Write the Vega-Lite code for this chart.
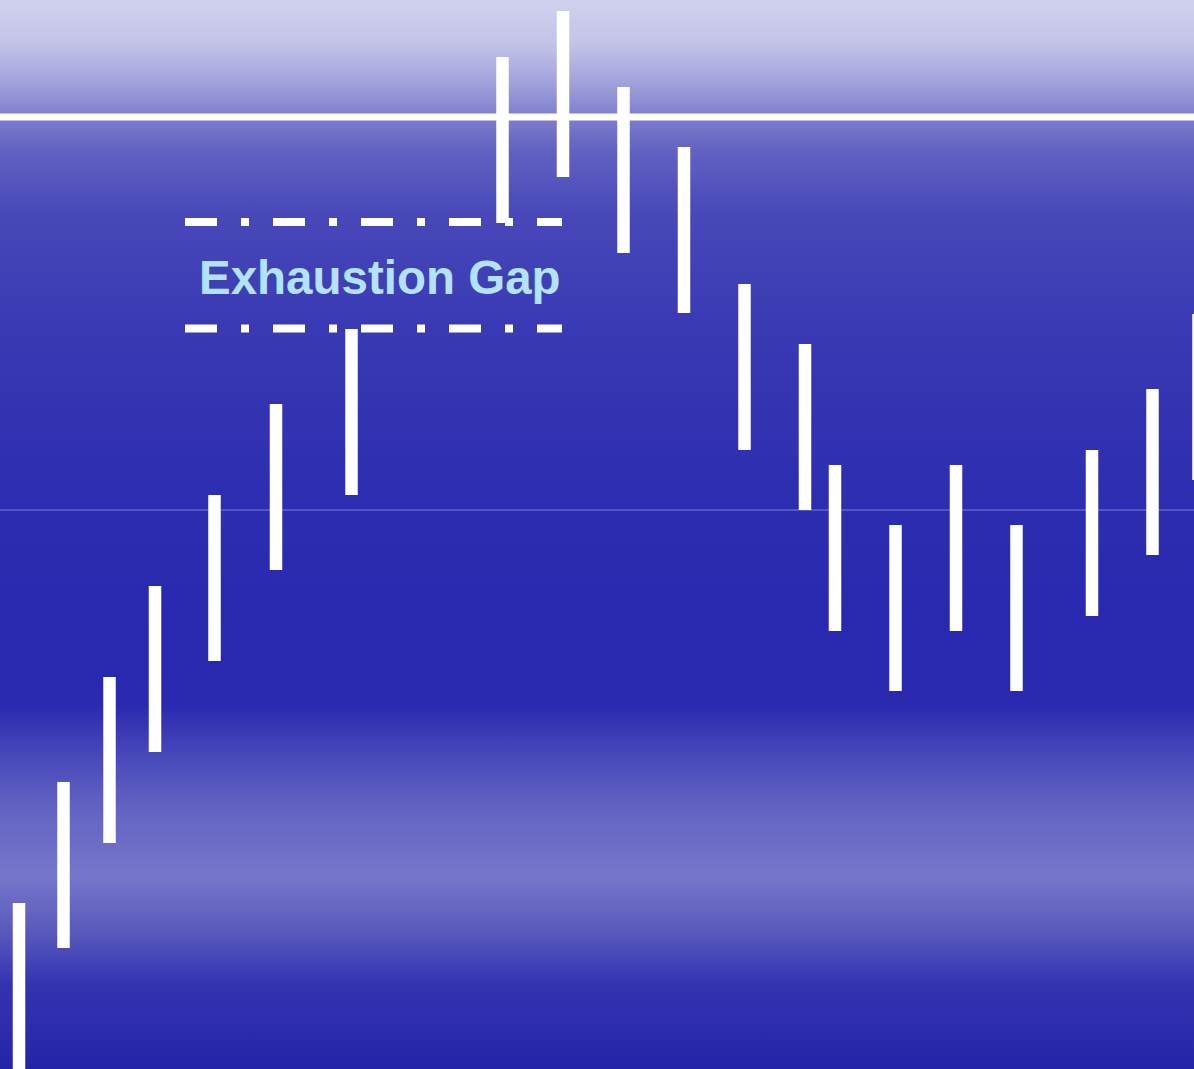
{
  "$schema": "https://vega.github.io/schema/vega-lite/v6.json",
  "width": 1194,
  "height": 1069,
  "autosize": {"type": "none"},
  "padding": 0,
  "background": "#2a2ab0",
  "view": {
    "stroke": null,
    "fill": {
      "gradient": "linear",
      "x1": 0, "y1": 0, "x2": 0, "y2": 1,
      "stops": [
        {"offset": 0, "color": "#d0d0ee"},
        {"offset": 0.04, "color": "#c4c4e9"},
        {"offset": 0.075, "color": "#a4a4dc"},
        {"offset": 0.105, "color": "#8282d0"},
        {"offset": 0.14, "color": "#6262c2"},
        {"offset": 0.2, "color": "#4848b9"},
        {"offset": 0.3, "color": "#3a3ab4"},
        {"offset": 0.45, "color": "#2e2eb1"},
        {"offset": 0.6, "color": "#2828b0"},
        {"offset": 0.66, "color": "#2a2ab0"},
        {"offset": 0.71, "color": "#4a4abb"},
        {"offset": 0.76, "color": "#6464c4"},
        {"offset": 0.82, "color": "#7676ca"},
        {"offset": 0.87, "color": "#5a5abe"},
        {"offset": 0.92, "color": "#3434b2"},
        {"offset": 1, "color": "#2424a8"}
      ]
    }
  },
  "config": {"axis": {"disable": true}},
  "layer": [
    {
      "data": {"values": [{"level": 55.9}]},
      "mark": {"type": "rule", "stroke": "#7c7cd4", "strokeWidth": 1},
      "encoding": {
        "y": {"field": "level", "type": "quantitative", "scale": {"domain": [0, 106.9], "nice": false, "zero": false}, "axis": null}
      }
    },
    {
      "data": {"values": [{"level": 95.2}]},
      "mark": {"type": "rule", "stroke": "white", "strokeWidth": 7},
      "encoding": {
        "y": {"field": "level", "type": "quantitative", "scale": {"domain": [0, 106.9], "nice": false, "zero": false}, "axis": null}
      }
    },
    {
      "data": {"values": [
        {"level": 84.7, "from": 18.5, "to": 56.2},
        {"level": 74.05, "from": 18.5, "to": 56.2}
      ]},
      "mark": {"type": "rule", "stroke": "white", "strokeWidth": 8, "strokeCap": "butt", "strokeDash": [32, 24, 8, 24]},
      "encoding": {
        "x": {"field": "from", "type": "quantitative", "scale": {"domain": [0, 119.4], "nice": false, "zero": false}, "axis": null},
        "x2": {"field": "to"},
        "y": {"field": "level", "type": "quantitative", "scale": {"domain": [0, 106.9], "nice": false, "zero": false}, "axis": null}
      }
    },
    {
      "data": {"values": [{"label": "Exhaustion Gap", "x": 19.9, "y": 77.5}]},
      "mark": {"type": "text", "align": "left", "baseline": "alphabetic", "font": "Liberation Sans", "fontWeight": "bold", "fontSize": 47.5, "color": "#b3e3fc"},
      "encoding": {
        "x": {"field": "x", "type": "quantitative", "scale": {"domain": [0, 119.4], "nice": false, "zero": false}, "axis": null},
        "y": {"field": "y", "type": "quantitative", "scale": {"domain": [0, 106.9], "nice": false, "zero": false}, "axis": null},
        "text": {"field": "label"}
      }
    },
    {
      "data": {"values": [
        {"t": 1.9, "high": 16.6, "low": 0},
        {"t": 6.35, "high": 28.7, "low": 12.1},
        {"t": 10.95, "high": 39.2, "low": 22.6},
        {"t": 15.5, "high": 48.3, "low": 31.7},
        {"t": 21.45, "high": 57.4, "low": 40.8},
        {"t": 27.6, "high": 66.5, "low": 49.9},
        {"t": 35.15, "high": 74.0, "low": 57.4},
        {"t": 50.25, "high": 101.2, "low": 84.6},
        {"t": 56.3, "high": 105.8, "low": 89.2},
        {"t": 62.35, "high": 98.2, "low": 81.6},
        {"t": 68.4, "high": 92.2, "low": 75.6},
        {"t": 74.45, "high": 78.5, "low": 61.9},
        {"t": 80.5, "high": 72.5, "low": 55.9},
        {"t": 83.5, "high": 60.4, "low": 43.8},
        {"t": 89.55, "high": 54.4, "low": 37.8},
        {"t": 95.6, "high": 60.4, "low": 43.8},
        {"t": 101.65, "high": 54.4, "low": 37.8},
        {"t": 109.2, "high": 61.9, "low": 45.3},
        {"t": 115.25, "high": 68.0, "low": 51.4},
        {"t": 119.85, "high": 75.5, "low": 58.9}
      ]},
      "mark": {"type": "rule", "stroke": "white", "strokeWidth": 12.5, "strokeCap": "butt", "clip": true},
      "encoding": {
        "x": {"field": "t", "type": "quantitative", "scale": {"domain": [0, 119.4], "nice": false, "zero": false}, "axis": null},
        "y": {"field": "high", "type": "quantitative", "scale": {"domain": [0, 106.9], "nice": false, "zero": false}, "axis": null},
        "y2": {"field": "low"}
      }
    }
  ]
}
